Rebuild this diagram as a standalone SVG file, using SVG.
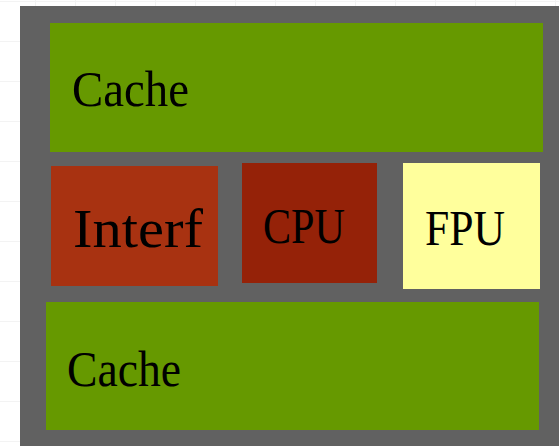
<svg xmlns="http://www.w3.org/2000/svg" width="559" height="446" viewBox="0 0 559 446">
<style>
.grid line{stroke:#f3f3f3;stroke-width:1}
.lbl{font-family:"Liberation Serif","DejaVu Serif",serif;fill:#000}
.cache{fill:#669900}
</style>
<rect x="0" y="0" width="559" height="446" fill="#ffffff"/>
<g class="grid">
<line x1="0" y1="1.5" x2="559" y2="1.5"/>
<line x1="0" y1="41.5" x2="20" y2="41.5"/>
<line x1="0" y1="81.5" x2="20" y2="81.5"/>
<line x1="0" y1="121.5" x2="20" y2="121.5"/>
<line x1="0" y1="161.5" x2="20" y2="161.5"/>
<line x1="0" y1="201.5" x2="20" y2="201.5"/>
<line x1="0" y1="241.5" x2="20" y2="241.5"/>
<line x1="0" y1="281.5" x2="20" y2="281.5"/>
<line x1="0" y1="321.5" x2="20" y2="321.5"/>
<line x1="0" y1="361.5" x2="20" y2="361.5"/>
<line x1="0" y1="401.5" x2="20" y2="401.5"/>
<line x1="0" y1="441.5" x2="20" y2="441.5"/>
<line x1="35.5" y1="0" x2="35.5" y2="6"/>
<line x1="75.5" y1="0" x2="75.5" y2="6"/>
<line x1="115.5" y1="0" x2="115.5" y2="6"/>
<line x1="155.5" y1="0" x2="155.5" y2="6"/>
<line x1="195.5" y1="0" x2="195.5" y2="6"/>
<line x1="235.5" y1="0" x2="235.5" y2="6"/>
<line x1="275.5" y1="0" x2="275.5" y2="6"/>
<line x1="315.5" y1="0" x2="315.5" y2="6"/>
<line x1="355.5" y1="0" x2="355.5" y2="6"/>
<line x1="395.5" y1="0" x2="395.5" y2="6"/>
<line x1="435.5" y1="0" x2="435.5" y2="6"/>
<line x1="475.5" y1="0" x2="475.5" y2="6"/>
<line x1="515.5" y1="0" x2="515.5" y2="6"/>
<line x1="555.5" y1="0" x2="555.5" y2="6"/>
</g>
<rect id="board" x="20" y="6" width="539" height="440" fill="#616161"/>
<g id="cache-top">
<rect class="cache" x="50" y="23" width="493" height="129"/>
<text class="lbl" x="72" y="106" font-size="50" textLength="117" lengthAdjust="spacingAndGlyphs">Cache</text>
</g>
<g id="interf">
<rect x="51" y="166" width="167" height="120" fill="#A83211"/>
<text class="lbl" x="73" y="247" font-size="54" textLength="130" lengthAdjust="spacingAndGlyphs">Interf</text>
</g>
<g id="cpu">
<rect x="242" y="163" width="135" height="120" fill="#952208"/>
<text class="lbl" x="263" y="243" font-size="50" textLength="82" lengthAdjust="spacingAndGlyphs">CPU</text>
</g>
<g id="fpu">
<rect x="403" y="163" width="137" height="126" fill="#FFFF9C"/>
<text class="lbl" x="425" y="245" font-size="51" textLength="80" lengthAdjust="spacingAndGlyphs">FPU</text>
</g>
<g id="cache-bottom">
<rect class="cache" x="46" y="302" width="493" height="128"/>
<text class="lbl" x="67" y="386" font-size="50" textLength="114" lengthAdjust="spacingAndGlyphs">Cache</text>
</g>
<g id="connectors"></g>
</svg>
